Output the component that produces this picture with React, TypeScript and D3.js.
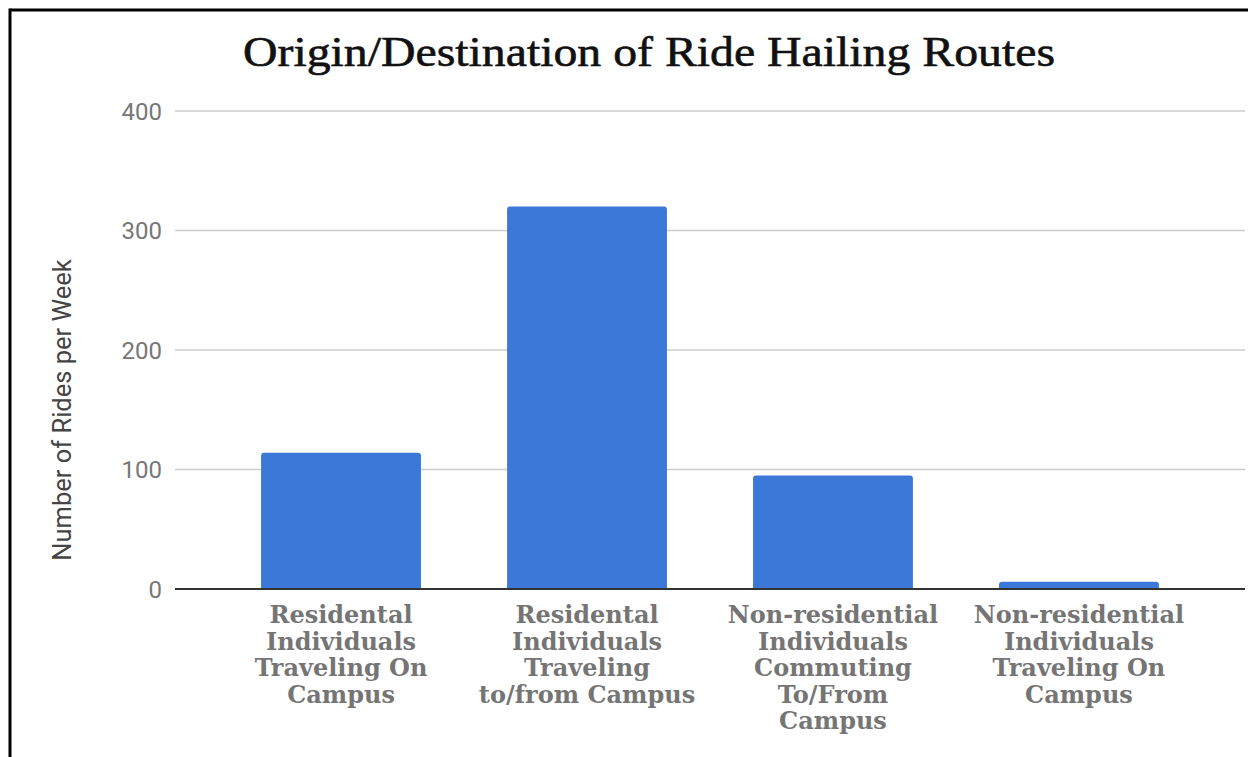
import React from "react";
import * as d3 from "d3";

const categories: string[][] = [
  ["Residental", "Individuals", "Traveling On", "Campus"],
  ["Residental", "Individuals", "Traveling", "to/from Campus"],
  ["Non-residential", "Individuals", "Commuting", "To/From", "Campus"],
  ["Non-residential", "Individuals", "Traveling On", "Campus"],
];
const values: number[] = [114, 320, 95, 6];
const yTicks: number[] = [0, 100, 200, 300, 400];
const title = "Origin/Destination of Ride Hailing Routes";
const yTitle = "Number of Rides per Week";

const W = 1248;
const H = 757;
const plotLeft = 175;
const plotRight = 1245;
const plotTop = 111;
const plotBottom = 589;

export default function App() {
  const x = d3
    .scaleBand<number>()
    .domain(values.map((_, i) => i))
    .range([plotLeft, plotRight])
    .padding(0.35);
  const y = d3.scaleLinear().domain([0, 400]).range([plotBottom, plotTop]);

  const barPath = (x0: number, y0: number, w: number, h: number) => {
    const r = Math.min(3, h / 2);
    const p = d3.path();
    p.moveTo(x0, y0 + h);
    p.lineTo(x0, y0 + r);
    p.quadraticCurveTo(x0, y0, x0 + r, y0);
    p.lineTo(x0 + w - r, y0);
    p.quadraticCurveTo(x0 + w, y0, x0 + w, y0 + r);
    p.lineTo(x0 + w, y0 + h);
    p.closePath();
    return p.toString();
  };

  return (
    <svg
      width={W}
      height={H}
      style={{ position: "absolute", left: 0, top: 0, background: "#fff" }}
    >
      <rect x={0} y={0} width={W} height={H} fill="#fff" />
      {/* border */}
      <line x1={10} y1={10} x2={W} y2={10} stroke="#000" strokeWidth={3} />
      <line x1={10} y1={8.5} x2={10} y2={H} stroke="#000" strokeWidth={3} />

      <text
        x={649}
        y={66}
        textAnchor="middle"
        fontFamily="'Liberation Serif', 'DejaVu Serif', serif"
        fontSize={43}
        fill="#111"
        stroke="#111"
        strokeWidth={0.6}
        textLength={812}
        lengthAdjust="spacingAndGlyphs"
      >
        {title}
      </text>

      {yTicks.map((t) => (
        <g key={t}>
          {t !== 0 && (
            <line
              x1={plotLeft}
              x2={plotRight}
              y1={y(t)}
              y2={y(t)}
              stroke="#cccccc"
              strokeWidth={1.5}
            />
          )}
          <text
            x={162}
            y={y(t)}
            dy="0.36em"
            textAnchor="end"
            fontFamily="Roboto, sans-serif"
            fontSize={24}
            fill="#777777"
          >
            {t}
          </text>
        </g>
      ))}

      <text
        transform={`translate(71, ${410}) rotate(-90)`}
        textAnchor="middle"
        fontFamily="Roboto, sans-serif"
        fontSize={25.5}
        fill="#444444"
      >
        {yTitle}
      </text>

      {values.map((v, i) => {
        const x0 = x(i)!;
        const w = x.bandwidth();
        const top = y(v);
        return (
          <path
            key={i}
            d={barPath(x0, top, w, plotBottom - top)}
            fill="#3c78d8"
          />
        );
      })}

      <line
        x1={plotLeft}
        x2={plotRight}
        y1={plotBottom}
        y2={plotBottom}
        stroke="#333333"
        strokeWidth={2}
      />

      {categories.map((lines, i) => {
        const cx = x(i)! + x.bandwidth() / 2;
        return (
          <text
            key={i}
            textAnchor="middle"
            fontFamily="'DejaVu Serif', serif"
            fontWeight="bold"
            fontSize={24}
            fill="#757575"
          >
            {lines.map((l, j) => (
              <tspan key={j} x={cx} y={623 + j * 26.5}>
                {l}
              </tspan>
            ))}
          </text>
        );
      })}
    </svg>
  );
}
